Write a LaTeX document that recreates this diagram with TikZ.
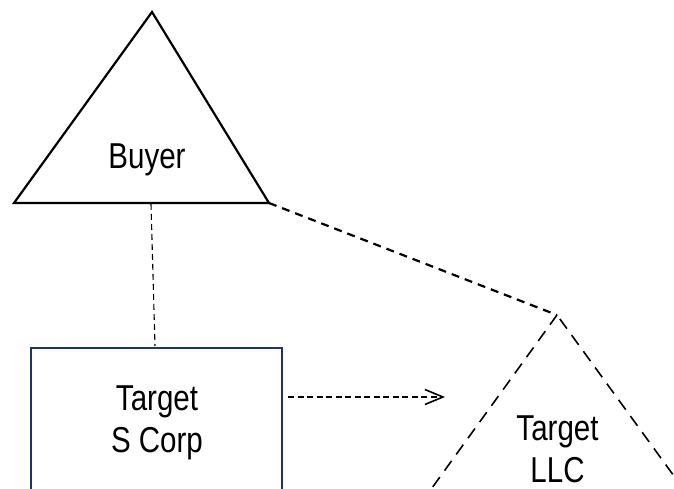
\documentclass[tikz,border=0pt]{standalone}
\usepackage{fontspec}
\setmainfont{Liberation Sans}[FakeStretch=0.82]
\usepackage{tikz}
\usetikzlibrary{arrows.meta, calc, positioning}
\definecolor{corpblue}{RGB}{30,52,104}
\tikzset{
	every node/.style={
		font=\fontsize{36bp}{42bp}\selectfont
	},
	entity/.style={
		draw=black,
		line width=2.2bp,
		line join=miter
	},
	corpbox/.style={
		shape=rectangle,
		draw=corpblue,
		line width=2.2bp,
		inner sep=0pt,
		anchor=north west
	},
	flowthrough/.style={
		draw,
		line width=1.6bp,
		dash pattern=on 12bp off 8bp
	},
	owns/.style={
		draw,
		line width=1.1bp,
		dash pattern=on 6bp off 4bp
	},
	ownsllc/.style={
		draw,
		line width=2.2bp,
		dash pattern=on 8bp off 6bp
	},
	merger/.style={
		draw,
		->,
		line width=1.6bp,
		dash pattern=on 6bp off 3.5bp
	},
	caption/.style={
		align=center,
		anchor=base,
		inner sep=0pt
	}
}

\begin{document}
\begin{tikzpicture}[x=1bp,y=-1bp,>={Straight Barb[length=18bp,width=15bp]}]
	\useasboundingbox (0,0) rectangle (674,489);
	\clip (0,0) rectangle (674,489);

	% Buyer
	\draw[entity] (152,12) coordinate (buyer top)
		-- (269,203) coordinate (buyer right)
		-- (14,203) coordinate (buyer left) -- cycle;
	\coordinate (buyer base) at (151,204);
	\node[caption] (buyer) at (147,169) {Buyer};

	% Target S Corp
	\node[corpbox, minimum width=251bp, minimum height=220bp] (scorp) at (30,347) {};
	\node[caption] (scorp label) at (157,452) {Target\\S Corp};

	% Target LLC
	\draw[flowthrough] (557,315) coordinate (llc top)
		-- (351,600) coordinate (llc left)
		-- (764,600) coordinate (llc right) -- cycle;
	\node[caption] (llc) at (557.5,482) {Target\\LLC};

	\coordinate (arrow start) at (288,397);
	\coordinate (arrow end) at (445,397);

	\path[owns] (buyer base) -- (155,346);
	\path[ownsllc] (buyer right) -- (llc top);
	\path[merger] (arrow start) -- (arrow end);

\end{tikzpicture}
\end{document}
